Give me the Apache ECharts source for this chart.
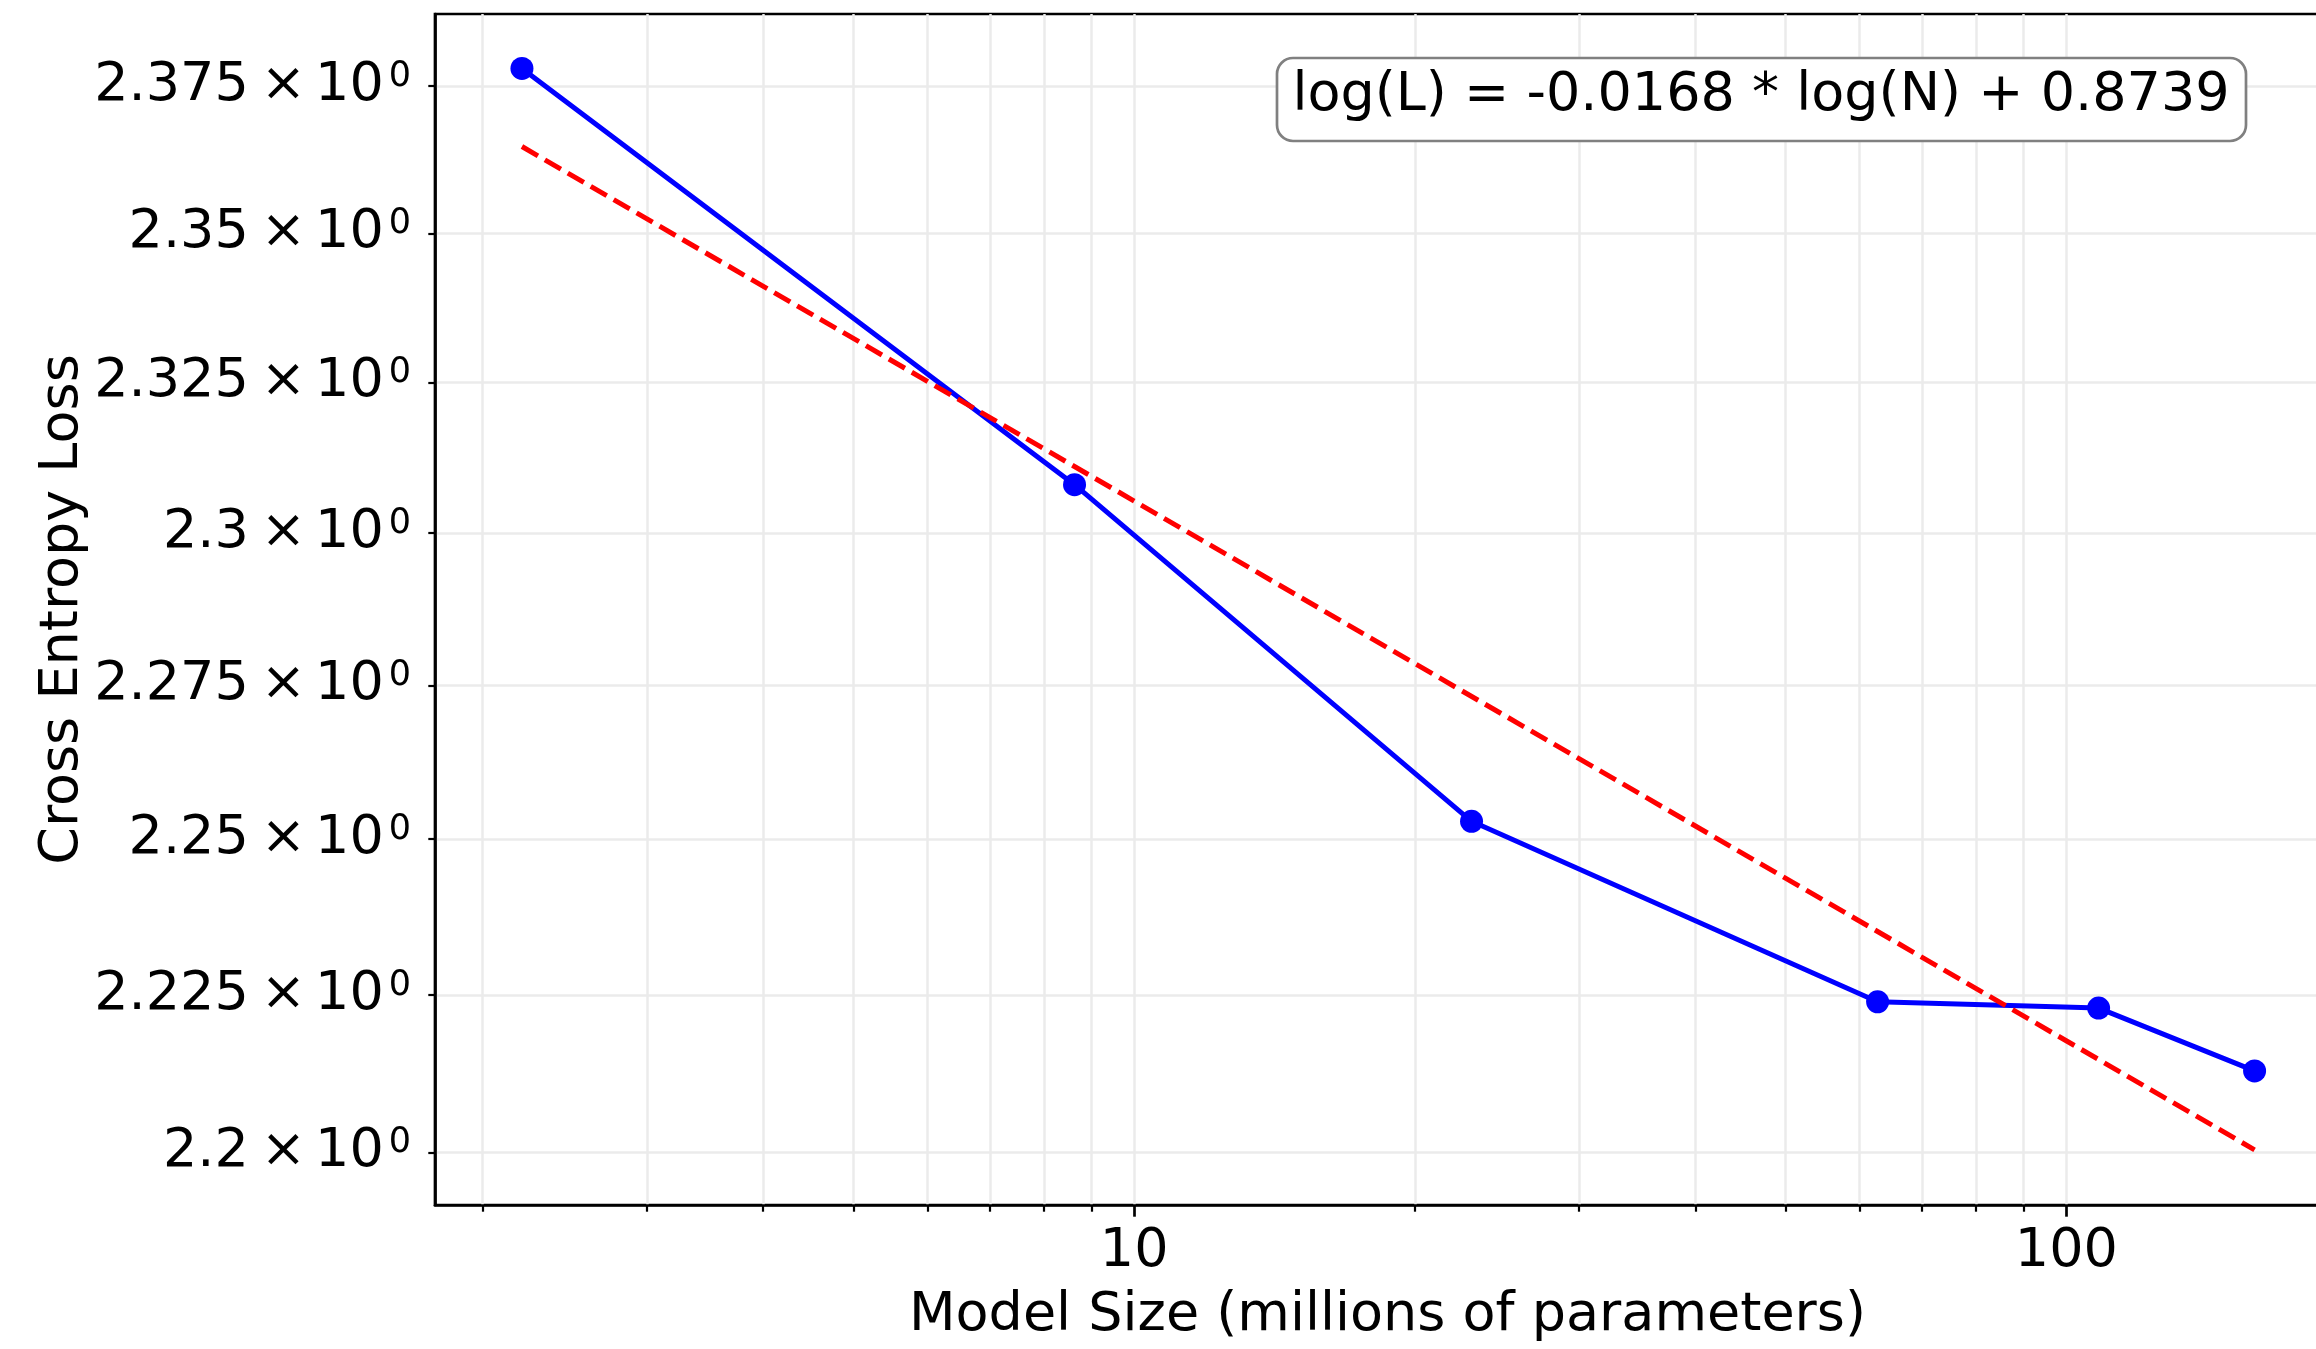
<!DOCTYPE html>
<html>
<head>
<meta charset="utf-8">
<script src="https://cdn.jsdelivr.net/npm/echarts@6/dist/echarts.min.js"></script>
<style>
html,body{margin:0;padding:0;background:#fff;}
#chart{width:2316px;height:1349px;}
</style>
</head>
<body>
<div id="chart"></div>
<script>
// ---- data ----
const modelSizes = [2.204, 8.63, 23.01, 62.74, 108.3, 159.2];
const losses = [2.3780, 2.3080, 2.2529, 2.2239, 2.2229, 2.2129];
const fitSizes = [2.204, 159.2];
const fitLosses = [2.3647, 2.2004];
const xMajorTicks = [10, 100];
const xMinorTicks = [2, 3, 4, 5, 6, 7, 8, 9, 20, 30, 40, 50, 60, 70, 80, 90];
const yTicks = [2.2, 2.225, 2.25, 2.275, 2.3, 2.325, 2.35, 2.375];
const yTickLabels = ['2.2', '2.225', '2.25', '2.275', '2.3', '2.325', '2.35', '2.375'];
const xRange = [1.778, 196.6];
const yRange = [2.1917, 2.3873];
const fitText = 'log(L) = -0.0168 * log(N) + 0.8739';
const xTitle = 'Model Size (millions of parameters)';
const yTitle = 'Cross Entropy Loss';

const FONT = 'DejaVu Sans';
const FS = 54;
const gridColor = '#ebebeb';

const chart = echarts.init(document.getElementById('chart'), null, {renderer: 'canvas'});

function yFmt(v) {
  let idx = -1;
  for (let i = 0; i < yTicks.length; i++) if (Math.abs(yTicks[i] - v) < 1e-6) idx = i;
  const s = idx >= 0 ? yTickLabels[idx] : String(v);
  return '{m|' + s + '}{x|×}{m|10}{s|0}';
}

const option = {
  animation: false,
  backgroundColor: '#fff',
  grid: {
    left: 435, top: 14, width: 1905, height: 1191,
    show: true, borderColor: '#000', borderWidth: 2.7, backgroundColor: 'transparent',
    containLabel: false, outerBoundsMode: 'none'
  },
  xAxis: [
    {
      type: 'log', position: 'bottom', min: xRange[0], max: xRange[1],
      name: xTitle, nameLocation: 'middle', nameGap: 84, nameMoveOverlap: false,
      nameTextStyle: {fontFamily: FONT, fontSize: FS, color: '#000'},
      axisLine: {show: true, lineStyle: {color: '#000', width: 2.7}},
      axisTick: {show: true, customValues: xMajorTicks, length: 11.7, inside: false, lineStyle: {color: '#000', width: 2.7}},
      axisLabel: {show: true, customValues: xMajorTicks, margin: 20, fontFamily: FONT, fontSize: FS, color: '#000',
        formatter: v => String(Math.round(v))},
      splitLine: {show: true, lineStyle: {color: gridColor, width: 2.5}},
      minorTick: {show: false}, minorSplitLine: {show: false}
    },
    {
      type: 'log', position: 'bottom', min: xRange[0], max: xRange[1],
      axisLine: {show: false},
      axisTick: {show: true, customValues: xMinorTicks, length: 6.7, inside: false, lineStyle: {color: '#000', width: 2.2}},
      axisLabel: {show: false},
      splitLine: {show: true, lineStyle: {color: gridColor, width: 2.5}}
    }
  ],
  yAxis: {
    type: 'log', position: 'left', min: yRange[0], max: yRange[1],
    name: yTitle, nameLocation: 'middle', nameGap: 345, nameMoveOverlap: false,
    nameTextStyle: {fontFamily: FONT, fontSize: FS, color: '#000'},
    axisLine: {show: true, lineStyle: {color: '#000', width: 2.7}},
    axisTick: {show: true, customValues: yTicks, length: 6.7, inside: false, lineStyle: {color: '#000', width: 2.2}},
    axisLabel: {
      show: true, customValues: yTicks, margin: 24, formatter: yFmt,
      rich: {
        m: {fontFamily: FONT, fontSize: FS, color: '#000', lineHeight: 54, padding: [5, 0, 5, 0]},
        x: {fontFamily: FONT, fontSize: FS, color: '#000', lineHeight: 54, padding: [5, 9, 5, 12]},
        s: {fontFamily: FONT, fontSize: 35, color: '#000', verticalAlign: 'top', padding: [0, 0, 0, 5]}
      }
    },
    splitLine: {show: true, lineStyle: {color: gridColor, width: 2.5}}
  },
  series: [
    {
      type: 'line', xAxisIndex: 0, yAxisIndex: 0,
      data: modelSizes.map((x, i) => [x, losses[i]]),
      symbol: 'circle', symbolSize: 23,
      lineStyle: {color: '#0000ff', width: 5},
      itemStyle: {color: '#0000ff'},
      z: 3
    },
    {
      type: 'line', xAxisIndex: 0, yAxisIndex: 0,
      data: fitSizes.map((x, i) => [x, fitLosses[i]]),
      symbol: 'none',
      lineStyle: {color: '#ff0000', width: 5, type: [18.5, 8]},
      z: 4
    }
  ],
  graphic: [
    {
      type: 'rect', z: 100,
      shape: {x: 1277, y: 58, width: 969, height: 83, r: 16},
      style: {fill: '#fff', stroke: '#808080', lineWidth: 2.7}
    },
    {
      type: 'text', z: 101, x: 1761, y: 96,
      style: {text: fitText, fontFamily: FONT, fontSize: FS, fill: '#000', align: 'center', verticalAlign: 'middle'}
    }
  ]
};
chart.setOption(option);
</script>
</body>
</html>
